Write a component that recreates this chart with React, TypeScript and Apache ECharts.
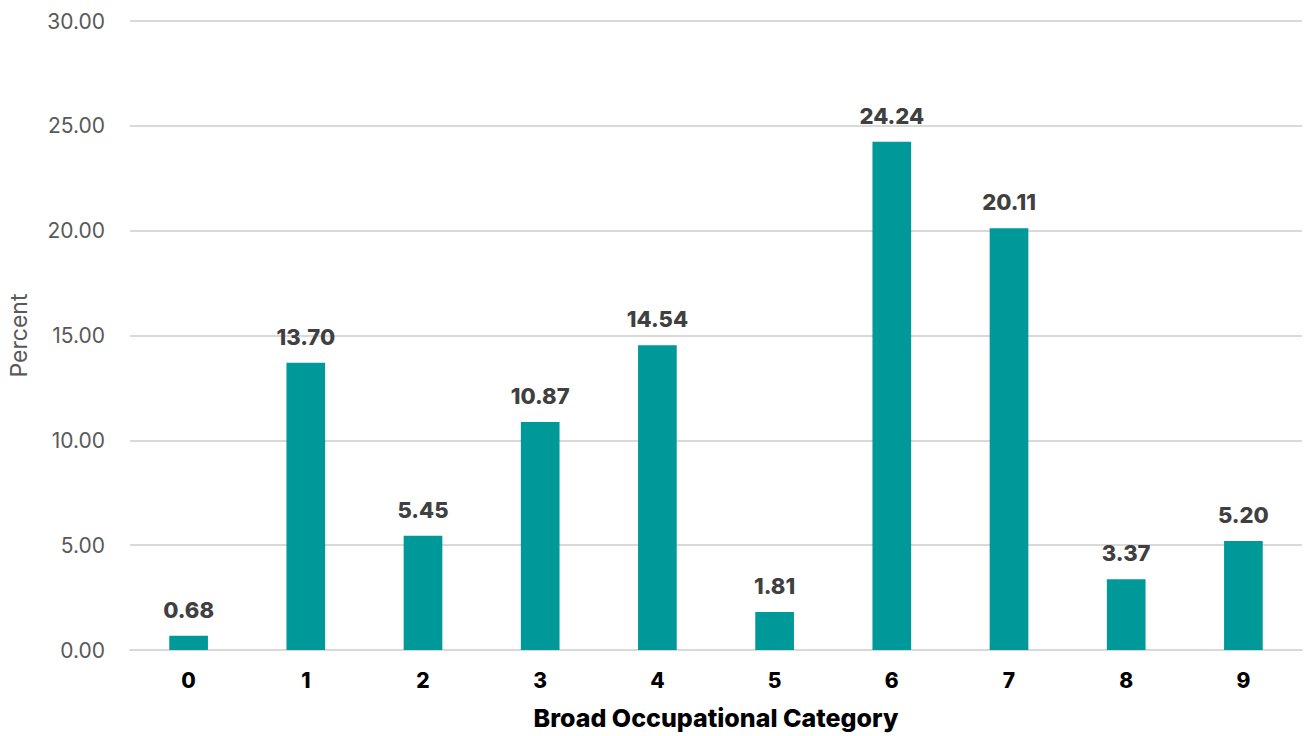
import React, { useEffect, useRef } from "react";
import * as echarts from "echarts";

const categories = ["0", "1", "2", "3", "4", "5", "6", "7", "8", "9"];
const values = [0.68, 13.7, 5.45, 10.87, 14.54, 1.81, 24.24, 20.11, 3.37, 5.2];
const yTicks = { min: 0, max: 30, interval: 5 };

export default function App() {
  const ref = useRef<HTMLDivElement>(null);
  useEffect(() => {
    document.body.style.margin = "0";
    const chart = echarts.init(ref.current!, null, { renderer: "svg", width: 1304, height: 736 });
    const font = "Inter, Lato, sans-serif";
    chart.setOption({
      animation: false,
      grid: { left: 130, right: 2, top: 21, bottom: 86, containLabel: false, outerBoundsMode: "none" },
      xAxis: {
        type: "category",
        data: categories,
        name: "Broad Occupational Category",
        nameLocation: "middle",
        nameGap: 55,
        nameTextStyle: { fontFamily: font, fontSize: 25, fontWeight: 800, color: "#000" },
        axisLine: { lineStyle: { color: "#d9d9d9", width: 2 } },
        axisTick: { show: false },
        axisLabel: { fontFamily: font, fontSize: 21, fontWeight: 800, color: "#000", margin: 20 },
      },
      yAxis: {
        type: "value",
        min: yTicks.min,
        max: yTicks.max,
        interval: yTicks.interval,
        name: "Percent",
        nameLocation: "middle",
        nameGap: 100,
        nameTextStyle: { fontFamily: font, fontSize: 23, color: "#595959" },
        axisLine: { show: false },
        axisTick: { show: false },
        splitLine: { lineStyle: { color: "#d9d9d9", width: 2 } },
        axisLabel: {
          fontFamily: font,
          fontSize: 21,
          color: "#595959",
          margin: 25,
          formatter: (v: number) => v.toFixed(2),
        },
      },
      series: [
        {
          type: "bar",
          data: values,
          barWidth: "33%",
          itemStyle: { color: "#009999" },
          label: {
            show: true,
            position: "top",
            distance: 15,
            fontFamily: font,
            fontSize: 22,
            fontWeight: 800,
            color: "#404040",
            formatter: (p: any) => Number(p.value).toFixed(2),
          },
        },
      ],
    });
    return () => chart.dispose();
  }, []);
  return <div ref={ref} style={{ width: 1304, height: 736 }} />;
}
